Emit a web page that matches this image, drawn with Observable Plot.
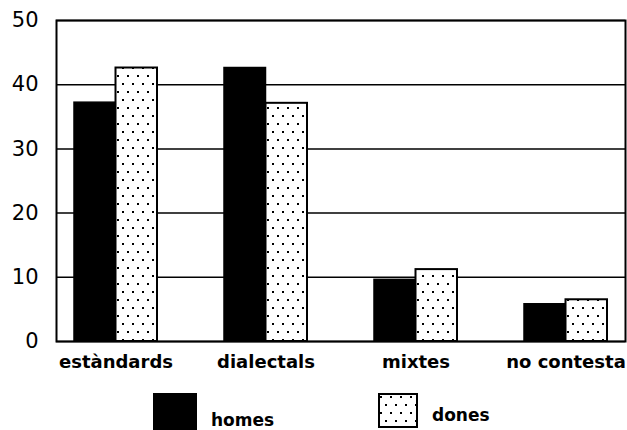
<!DOCTYPE html>
<html>
<head>
<meta charset="utf-8">
<script src="https://cdn.jsdelivr.net/npm/d3@7"></script>
<script src="https://cdn.jsdelivr.net/npm/@observablehq/plot@0.6"></script>
<style>
  body { margin: 0; background: #fff; }
  #wrap { position: relative; width: 627px; height: 430px; overflow: hidden; font-family: "DejaVu Sans", sans-serif; }
  #legend { position: absolute; left: 0; top: 380px; width: 627px; height: 50px; }
  .item { position: absolute; top: 13px; display: flex; align-items: flex-end; }
  .item span { font-size: 17px; font-weight: bold; margin-left: 14px; line-height: 1; padding-bottom: 4px; }
</style>
</head>
<body>
<div id="wrap">
  <div id="chart"></div>
  <div id="legend"></div>
</div>
<script>
const categories = ["estàndards", "dialectals", "mixtes", "no contesta"];
const homes = [37.2, 42.6, 9.6, 5.8];
const dones = [42.6, 37.1, 11.2, 6.5];
const seriesNames = ["homes", "dones"];
const yTicks = [0, 10, 20, 30, 40, 50];

const dataH = categories.map((c, i) => ({category: c, value: homes[i]}));
const dataD = categories.map((c, i) => ({category: c, value: dones[i]}));

const half = 41.5;

const svg = Plot.plot({
  width: 627,
  height: 380,
  marginLeft: 56,
  marginRight: 2,
  marginTop: 20,
  marginBottom: 39,
  style: {background: "#fff", fontFamily: "DejaVu Sans, sans-serif", color: "#000"},
  x: {domain: categories, paddingInner: 0.447, paddingOuter: 0.12},
  y: {domain: [0, 50]},
  marks: [
    Plot.gridY(yTicks, {stroke: "#000", strokeOpacity: 1, strokeWidth: 1.5}),
    Plot.barY(dataH, {x: "category", y: "value", fill: "#000", stroke: "#000", strokeWidth: 1.5, insetRight: half}),
    Plot.barY(dataD, {x: "category", y: "value", fill: "url(#dots)", stroke: "#000", strokeWidth: 2, insetLeft: half}),
    Plot.frame({stroke: "#000", strokeWidth: 2}),
    Plot.axisY(yTicks, {tickSize: 0, tickPadding: 18, fontSize: 21, label: null}),
    Plot.axisX({tickSize: 0, tickPadding: 14, fontSize: 18, fontWeight: "bold", label: null})
  ]
});

function dotsPattern(id) {
  const ns = "http://www.w3.org/2000/svg";
  const defs = document.createElementNS(ns, "defs");
  const p = document.createElementNS(ns, "pattern");
  p.setAttribute("id", id);
  p.setAttribute("patternUnits", "userSpaceOnUse");
  p.setAttribute("width", 10);
  p.setAttribute("height", 16);
  const bg = document.createElementNS(ns, "rect");
  bg.setAttribute("width", 10); bg.setAttribute("height", 16); bg.setAttribute("fill", "#fff");
  p.appendChild(bg);
  [[2, 3], [7, 11]].forEach(([x, y]) => {
    const r = document.createElementNS(ns, "rect");
    r.setAttribute("x", x); r.setAttribute("y", y);
    r.setAttribute("width", 2); r.setAttribute("height", 2); r.setAttribute("fill", "#000");
    p.appendChild(r);
  });
  defs.appendChild(p);
  return defs;
}
svg.insertBefore(dotsPattern("dots"), svg.firstChild);
document.getElementById("chart").appendChild(svg);

// legend
const legend = document.getElementById("legend");
const lx = [153, 378];
seriesNames.forEach((name, i) => {
  const item = document.createElement("div");
  item.className = "item";
  item.style.left = lx[i] + "px";
  const w = i === 0 ? 44 : 40, h = i === 0 ? 40 : 35;
  const sw = `<svg width="${w}" height="${h}"><defs>${dotsPattern("dotsL").outerHTML}</defs>` +
    (i === 0
      ? `<rect x="0" y="0" width="${w}" height="${h}" fill="#000"/>`
      : `<rect x="1" y="1" width="${w - 2}" height="${h - 2}" fill="url(#dotsL)" stroke="#000" stroke-width="2"/>`) +
    `</svg>`;
  item.innerHTML = sw + `<span>${name}</span>`;
  legend.appendChild(item);
});
</script>
</body>
</html>
